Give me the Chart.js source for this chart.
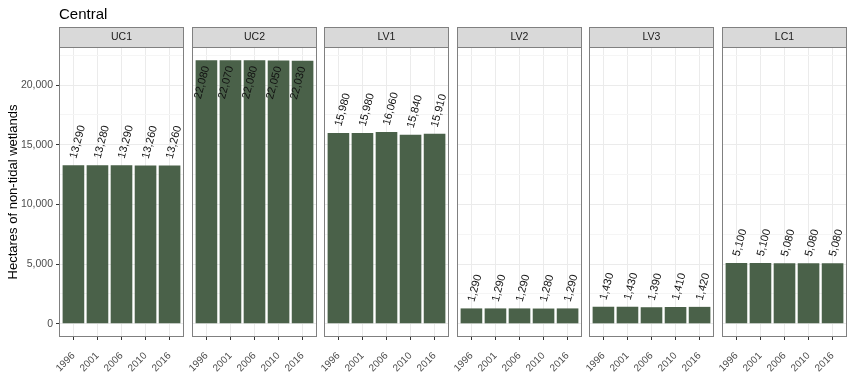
<!DOCTYPE html>
<html><head><meta charset="utf-8">
<script src="https://cdn.jsdelivr.net/npm/chart.js@4"></script>
<style>
html,body{margin:0;padding:0;background:#fff;}
#wrap{position:relative;width:854px;height:388px;overflow:hidden;}
#wrap canvas{position:absolute;left:0;top:0;}
</style></head>
<body><div id="wrap"></div>
<script>
const chartTitle = 'Central';
const yTitle = 'Hectares of non-tidal wetlands';
const years = ['1996','2001','2006','2010','2016'];
const regions = ['UC1','UC2','LV1','LV2','LV3','LC1'];
const UC1 = [13290,13280,13290,13260,13260];
const UC2 = [22080,22070,22080,22050,22030];
const LV1 = [15980,15980,16060,15840,15910];
const LV2 = [1290,1290,1290,1280,1290];
const LV3 = [1430,1430,1390,1410,1420];
const LC1 = [5100,5100,5080,5080,5080];
const yMajor = [0,5000,10000,15000,20000];
const yMinor = [2500,7500,12500,17500,22500];
const insideLabels = ['UC2'];

const seriesByRegion = {UC1,UC2,LV1,LV2,LV3,LC1};
const allVals = [].concat(UC1,UC2,LV1,LV2,LV3,LC1);
const maxV = Math.max(...allVals);
const yMin = -0.05*maxV, yMax = 1.05*maxV;
const yAllTicks = yMajor.concat(yMinor).sort((a,b)=>a-b);

const W = 854, H = 388;
const panelLefts = [59,192,324,457,589,722];
const panelW = 125;
const panelTop = 47, panelBottom = 337, stripTop = 27;
const BAR = '#4a6149';
const FONT = '"Liberation Sans", Arial, sans-serif';
const fmt = v => Math.round(v).toLocaleString('en-US');
const isMajor = v => yMajor.includes(v);

const wrap = document.getElementById('wrap');

regions.forEach((reg, idx) => {
  const cv = document.createElement('canvas');
  cv.width = W; cv.height = H;
  cv.style.width = W+'px'; cv.style.height = H+'px';
  wrap.appendChild(cv);
  const first = idx === 0;
  const left = panelLefts[idx];
  const right = left + panelW;
  const yW = first ? left : 0;
  const vals = seriesByRegion[reg];
  const inside = insideLabels.includes(reg);

  const deco = {
    id: 'deco'+idx,
    beforeDraw(chart){
      const ctx = chart.ctx, ca = chart.chartArea;
      ctx.save();
      ctx.fillStyle = '#d9d9d9';
      ctx.fillRect(ca.left, stripTop, ca.right-ca.left, panelTop-stripTop);
      ctx.strokeStyle = '#808080'; ctx.lineWidth = 1;
      ctx.strokeRect(Math.round(ca.left)+0.5, stripTop+0.5, Math.round(ca.right-ca.left)-1, panelTop-stripTop);
      ctx.fillStyle = '#1a1a1a';
      ctx.font = '10.5px '+FONT;
      ctx.textAlign = 'center'; ctx.textBaseline = 'middle';
      ctx.fillText(reg, (ca.left+ca.right)/2, (stripTop+panelTop)/2+0.5);
      if (first) {
        ctx.fillStyle = '#000';
        ctx.font = '15px '+FONT;
        ctx.textAlign = 'left'; ctx.textBaseline = 'alphabetic';
        ctx.fillText(chartTitle, 59, 18.5);
      }
      ctx.restore();
    },
    afterDatasetsDraw(chart){
      const ctx = chart.ctx, ca = chart.chartArea;
      const meta = chart.getDatasetMeta(0);
      ctx.save();
      ctx.fillStyle = '#111';
      ctx.font = '11px '+FONT;
      ctx.textBaseline = 'middle';
      meta.data.forEach((el, i) => {
        ctx.save();
        if (inside) {
          ctx.translate(el.x, el.y + 6);
          ctx.rotate(-75*Math.PI/180);
          ctx.textAlign = 'right';
        } else {
          ctx.translate(el.x, el.y - 7);
          ctx.rotate(-75*Math.PI/180);
          ctx.textAlign = 'left';
        }
        ctx.fillText(fmt(vals[i]), 0, 0);
        ctx.restore();
      });
      ctx.strokeStyle = '#808080'; ctx.lineWidth = 1;
      ctx.strokeRect(Math.round(ca.left)+0.5, Math.round(ca.top)+0.5, Math.round(ca.right-ca.left)-1, Math.round(ca.bottom-ca.top)-1);
      ctx.restore();
    }
  };

  new Chart(cv, {
    type: 'bar',
    data: {
      datasets: [{
        data: vals.map((v,i)=>({x:i, y:v})),
        backgroundColor: BAR,
        borderWidth: 0,
        barPercentage: 0.9,
        categoryPercentage: 1.0
      }]
    },
    options: {
      responsive: false,
      animation: false,
      devicePixelRatio: 1,
      layout: { padding: { left: left - yW, right: W - right, top: panelTop, bottom: 0 } },
      plugins: { legend: {display:false}, tooltip: {enabled:false}, title:{display:false} },
      scales: {
        x: {
          type: 'linear',
          min: -0.6, max: years.length - 0.4,
          offset: false,
          border: { display: false },
          grid: {
            offset: false,
            color: '#ebebeb', lineWidth: 1,
            drawTicks: true, tickLength: 3, tickColor: '#333333'
          },
          afterBuildTicks: s => { s.ticks = years.map((_, i) => ({ value: i })); },
          ticks: {
            autoSkip: false,
            minRotation: 45, maxRotation: 45,
            color: '#4d4d4d', font: { family: FONT, size: 10 }, padding: 10,
            callback: v => (years[v] !== undefined) ? years[v] : ''
          },
          afterFit: s => { s.height = H - panelBottom; }
        },
        y: {
          min: yMin, max: yMax,
          border: { display: false },
          grid: {
            color: c => (c.tick && isMajor(c.tick.value)) ? '#ebebeb' : '#f5f5f5',
            lineWidth: 1,
            drawTicks: first, tickLength: 3,
            tickColor: c => (c.tick && isMajor(c.tick.value)) ? '#333333' : 'rgba(0,0,0,0)'
          },
          afterBuildTicks: s => { s.ticks = yAllTicks.map(v => ({ value: v })); },
          ticks: {
            display: first, autoSkip: false,
            color: '#4d4d4d', font: { family: FONT, size: 10.5 }, padding: 3,
            callback: v => isMajor(v) ? fmt(v) : ''
          },
          title: {
            display: first, text: yTitle, color: '#000',
            font: { family: FONT, size: 13 }, padding: { top: 6, bottom: 0 }
          },
          afterFit: s => { s.width = yW; }
        }
      }
    },
    plugins: [deco]
  });
});
</script>
</body></html>
